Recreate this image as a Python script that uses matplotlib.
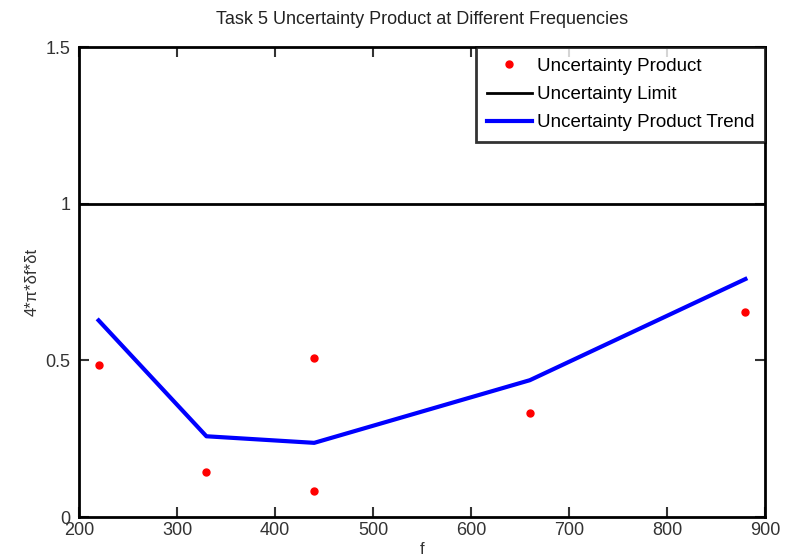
import matplotlib
matplotlib.use('Agg')
import matplotlib.pyplot as plt

# measured points
freqs = [220, 330, 440, 440, 660, 880]
products = [0.487, 0.144, 0.508, 0.083, 0.333, 0.654]

# trend line
trend_freqs = [220, 330, 440, 660, 880]
trend_vals = [0.628, 0.258, 0.237, 0.437, 0.760]

limit = 1.0
x_limits = [200, 900]

plt.rcParams['font.family'] = ['Liberation Sans', 'DejaVu Sans']

fig = plt.figure(figsize=(7.94, 5.56), dpi=100)
ax = fig.add_axes([0.0995, 0.070, 0.864, 0.845])

ax.plot(freqs, products, '.', color='red', markersize=10, label='Uncertainty Product')
ax.plot(x_limits, [limit, limit], color='black', linewidth=2, label='Uncertainty Limit')
ax.plot(trend_freqs, trend_vals, color='blue', linewidth=3, label='Uncertainty Product Trend')

ax.set_xlim(200, 900)
ax.set_ylim(0, 1.5)
ax.set_xticks(range(200, 901, 100))
ax.set_yticks([0, 0.5, 1, 1.5])
ax.set_yticklabels(['0', '0.5', '1', '1.5'])
ax.tick_params(direction='in', top=True, right=True, labelsize=13, length=7, width=1.5, colors='#333333')
ax.tick_params(axis='y', pad=6)
for s in ax.spines.values():
    s.set_linewidth(2)

ax.set_title('Task 5 Uncertainty Product at Different Frequencies', fontsize=13, color='#222222', pad=17)
ax.set_ylabel('4*\u03c0*\u03b4f*\u03b4t', fontsize=12, color='#333333')
ax.set_xlabel('f', fontsize=12, color='#333333', labelpad=2)

leg = ax.legend(loc='upper right', fontsize=13.5, frameon=True, fancybox=False,
                edgecolor='black', borderaxespad=0, handlelength=2.4, borderpad=0.55,
                labelspacing=0.6, handletextpad=0.3)
leg.get_frame().set_linewidth(2)

plt.savefig('out.png', dpi=100)
plt.close()
